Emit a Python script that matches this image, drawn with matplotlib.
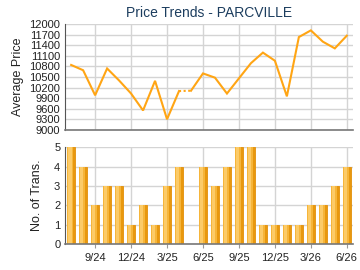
import matplotlib
matplotlib.use('Agg')
import matplotlib.pyplot as plt
import numpy as np

plt.rcParams['font.family'] = ['Liberation Sans', 'DejaVu Sans']

months = ['7/24', '8/24', '9/24', '10/24', '11/24', '12/24', '1/25', '2/25', '3/25',
          '4/25', '5/25', '6/25', '7/25', '8/25', '9/25', '10/25', '11/25', '12/25',
          '1/26', '2/26', '3/26', '4/26', '5/26', '6/26']
prices = [10840, 10690, 9980, 10740, 10400, 10030, 9550, 10390, 9300,
          10100, 10110, 10600, 10480, 10030, 10460, 10890, 11190, 10960,
          9950, 11630, 11820, 11500, 11310, 11670]
trans = [5, 4, 2, 3, 3, 1, 2, 1, 3, 4, 0, 4, 3, 4, 5, 5, 1, 1, 1, 1, 2, 2, 3, 4]
tick_labels = ['9/24', '12/24', '3/25', '6/25', '9/25', '12/25', '3/26', '6/26']

x = np.arange(len(months))
tick_pos = [months.index(m) for m in tick_labels]

line_c = '#ffa514'
grid_c = '#d4d4d4'
txt_c = '#222222'

fig = plt.figure(figsize=(3.6, 2.7), dpi=100)
ax1 = fig.add_axes([0.181, 0.519, 0.799, 0.392])
ax2 = fig.add_axes([0.181, 0.096, 0.799, 0.359])

for ax in (ax1, ax2):
    ax.set_xlim(-0.5, 23.5)
    ax.set_xticks(tick_pos)
    ax.grid(True, color=grid_c, linewidth=1)
    ax.set_axisbelow(True)
    for s in ('top', 'right'):
        ax.spines[s].set_visible(False)
    ax.spines['left'].set_color('#555555')
    ax.spines['bottom'].set_color('#777777')
    ax.spines['bottom'].set_linewidth(1.2)
    ax.tick_params(colors=txt_c, labelsize=8, length=3, width=0.8, color='#999999')
    ax.tick_params(axis='y', length=0)

# price line; the month without sales is joined with a dotted segment
gap = trans.index(0)
ax1.plot(x[:gap], prices[:gap], color=line_c, lw=1.5, solid_joinstyle='miter')
ax1.plot(x[gap - 1:gap + 1], prices[gap - 1:gap + 1], color=line_c, lw=1.5, ls=(0, (1, 1.2)))
ax1.plot(x[gap:], prices[gap:], color=line_c, lw=1.5, solid_joinstyle='miter')
ax1.set_ylim(9000, 12000)
ax1.set_yticks(np.arange(9000, 12001, 300))
ax1.tick_params(axis='x', labelbottom=False, length=0)
ax1.set_ylabel('Average Price', fontsize=9, color=txt_c, labelpad=4)
ax1.set_title('Price Trends - PARCVILLE', fontsize=10, color='#1c3d5e', pad=5)

# bars: dark base with lighter strips on the left for the gradient look
ax2.bar(x, trans, width=0.7, color='#e8980e', edgecolor='#e3900a', linewidth=0.6)
ax2.bar(x - 0.08, trans, width=0.48, color='#f6b53a', linewidth=0)
ax2.bar(x - 0.12, trans, width=0.3, color='#fccb68', linewidth=0)
ax2.set_ylim(0, 5)
ax2.set_yticks(range(0, 6))
ax2.set_xticklabels(tick_labels)
ax2.set_ylabel('No. of Trans.', fontsize=9, color=txt_c, labelpad=8)

fig.savefig('out.png', dpi=100)
